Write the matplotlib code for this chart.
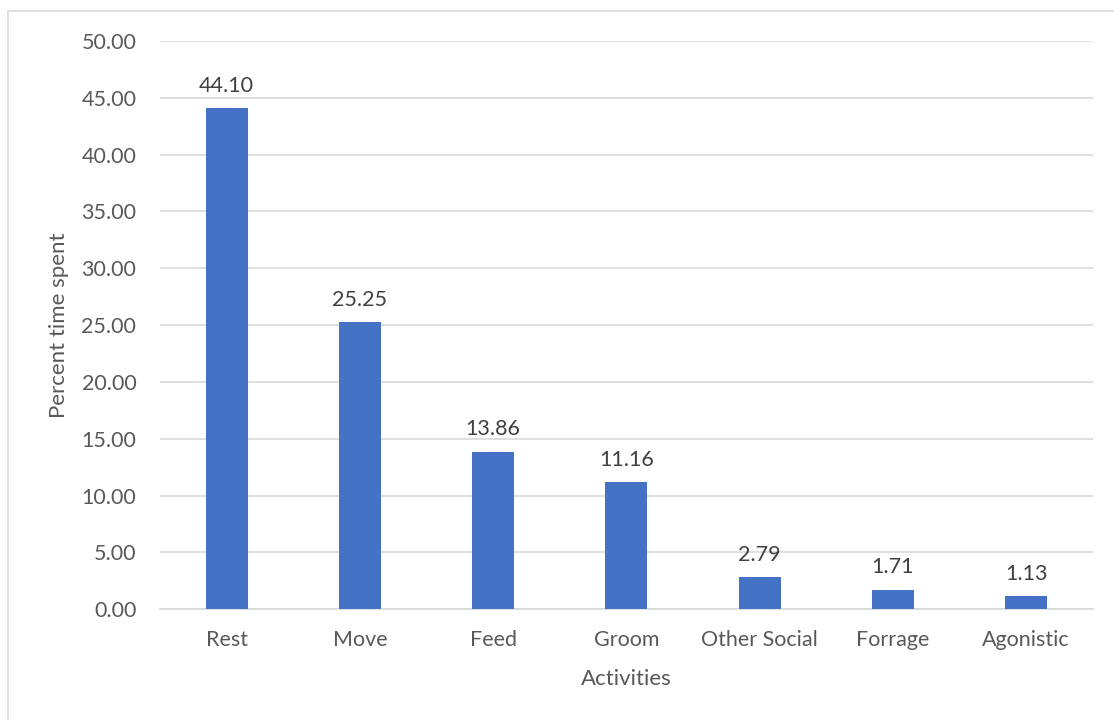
import matplotlib.pyplot as plt
from matplotlib.patches import Rectangle

# activity budget data
activities = ["Rest", "Move", "Feed", "Groom", "Other Social", "Forrage", "Agonistic"]
percent_time = [44.10, 25.25, 13.86, 11.16, 2.79, 1.71, 1.13]
yticks = [0, 5, 10, 15, 20, 25, 30, 35, 40, 45, 50]

plt.rcParams["font.family"] = ["Lato", "DejaVu Sans"]
text_col = "#595959"
grid_col = "#d9d9d9"

fig = plt.figure(figsize=(11.14, 7.2), dpi=100)
ax = fig.add_axes([0.1436, 0.154, 0.8374, 0.789])

# chart border
fig.patches.append(Rectangle((8 / 1114, -0.05), 1.2, 1 - 11 / 720 + 0.05,
                             transform=fig.transFigure, fill=False,
                             edgecolor=grid_col, linewidth=1.2))

x = range(len(activities))
bars = ax.bar(x, percent_time, width=0.315, color="#4472c4", zorder=3)
for b, v in zip(bars, percent_time):
    ax.text(b.get_x() + b.get_width() / 2, v + 1.1, f"{v:.2f}",
            ha="center", va="bottom", fontsize=15.5, color="#404040")

ax.set_xlim(-0.5, len(activities) - 0.5)
ax.set_ylim(0, 50)
ax.set_yticks(yticks)
ax.set_yticklabels([f"{t:.2f}" for t in yticks])
ax.set_xticks(list(x))
ax.set_xticklabels(activities)
ax.tick_params(length=0, labelsize=15.5, labelcolor=text_col)
ax.tick_params(axis="y", pad=17)
ax.tick_params(axis="x", pad=15)
ax.grid(axis="y", color=grid_col, linewidth=1.2, zorder=0)
for s in ["top", "right", "left"]:
    ax.spines[s].set_visible(False)
ax.spines["bottom"].set_color(grid_col)
ax.spines["bottom"].set_linewidth(1.2)

ax.set_ylabel("Percent time spent", fontsize=16, color=text_col, labelpad=9)
ax.set_xlabel("Activities", fontsize=16, color=text_col, labelpad=14)

fig.savefig("out.png", dpi=100)
